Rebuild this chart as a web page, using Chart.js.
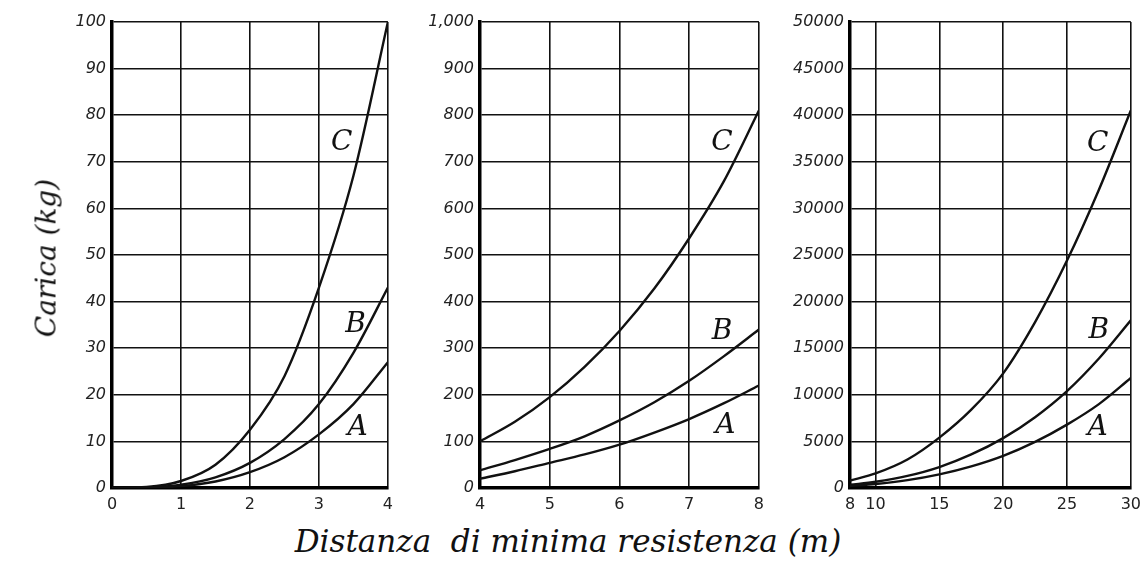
<!DOCTYPE html>
<html>
<head>
<meta charset="utf-8">
<script src="https://cdn.jsdelivr.net/npm/chart.js@4.4.1/dist/chart.umd.min.js"></script>
<style>
    body { margin: 0; background: #fff; width: 1148px; height: 567px; position: relative; overflow: hidden; }
    .panel { position: absolute; top: 0; height: 520px; }
    #yTitle {
        position: absolute; left: 46px; top: 258px;
        transform: translate(-50%, -50%) rotate(-90deg);
        font: italic 28px "DejaVu Serif", serif; color: #111; white-space: nowrap;
    }
    #xTitle {
        position: absolute; left: 568px; top: 541px;
        transform: translate(-50%, -50%);
        font: italic 31px "DejaVu Serif", serif; color: #111; white-space: nowrap;
    }
</style>
</head>
<body>
<div class="panel" style="left:40px;width:360px"><canvas id="chart1" width="360" height="520"></canvas></div>
<div class="panel" style="left:410px;width:361px"><canvas id="chart2" width="361" height="520"></canvas></div>
<div class="panel" style="left:775px;width:373px"><canvas id="chart3" width="373" height="520"></canvas></div>
<div id="yTitle">Carica (kg)</div>
<div id="xTitle">Distanza &nbsp;di minima resistenza (m)</div>

<script>
// Distanza (m) e carica (kg)
const dist1 = [0, 0.5, 1, 1.5, 2, 2.5, 3, 3.5, 4];
const curveA1 = [0, 0.05, 0.4, 1.4, 3.4, 6.6, 11.5, 18, 27];
const curveB1 = [0, 0.1, 0.7, 2.3, 5.4, 10.5, 18, 29, 43];
const curveC1 = [0, 0.2, 1.5, 5, 12.5, 24, 43, 67, 100];

const dist2 = [4, 4.5, 5, 5.5, 6, 6.5, 7, 7.5, 8];
const curveA2 = [20, 36, 54, 72, 93, 119, 148, 182, 220];
const curveB2 = [38, 60, 84, 111, 145, 184, 230, 283, 340];
const curveC2 = [100, 142, 195, 260, 337, 428, 536, 659, 810];

const dist3 = [8, 10, 12.5, 15, 17.5, 20, 22.5, 25, 27.5, 30];
const curveA3 = [220, 430, 840, 1460, 2320, 3450, 4950, 6800, 9000, 11800];
const curveB3 = [340, 670, 1300, 2250, 3600, 5350, 7600, 10400, 13900, 18000];
const curveC3 = [800, 1560, 3050, 5400, 8400, 12300, 17800, 24400, 32000, 40500];

const yLabels1 = ['0', '10', '20', '30', '40', '50', '60', '70', '80', '90', '100'];
const yLabels2 = ['0', '100', '200', '300', '400', '500', '600', '700', '800', '900', '1,000'];
const yLabels3 = ['0', '5000', '10000', '15000', '20000', '25000', '30000', '35000', '40000', '45000', '50000'];
const xTicks1 = [0, 1, 2, 3, 4];
const xTicks2 = [4, 5, 6, 7, 8];
const xTicks3 = [8, 10, 15, 20, 25, 30];
const curveNames = ['A', 'B', 'C'];

// draws the A / B / C letters next to the curves
const curveLabels = {
    id: 'curveLabels',
    afterDatasetsDraw(chart, args, opts) {
        const ctx = chart.ctx;
        ctx.save();
        ctx.font = 'italic 28px "DejaVu Serif", serif';
        ctx.fillStyle = '#111';
        ctx.textAlign = 'center';
        ctx.textBaseline = 'middle';
        (opts.items || []).forEach(function(it) {
            ctx.fillText(it.t, chart.scales.x.getPixelForValue(it.x), chart.scales.y.getPixelForValue(it.y));
        });
        ctx.restore();
    }
};

function makePanel(id, xs, series, xTicks, yLabels, yMax, yWidth, padRight, labelPos) {
    const ctx = document.getElementById(id).getContext('2d');
    const step = yMax / (yLabels.length - 1);
    new Chart(ctx, {
        type: 'line',
        data: {
            datasets: series.map(function(s, i) {
                return {
                    label: curveNames[i],
                    data: xs.map(function(x, j) { return { x: x, y: s[j] }; }),
                    borderColor: '#111',
                    borderWidth: 2.4,
                    pointRadius: 0,
                    cubicInterpolationMode: 'monotone',
                    fill: false
                };
            })
        },
        options: {
            responsive: false,
            animation: false,
            layout: { padding: { top: 22, right: padRight, left: 0, bottom: 0 } },
            plugins: {
                legend: { display: false },
                tooltip: { enabled: false },
                curveLabels: { items: labelPos }
            },
            scales: {
                x: {
                    type: 'linear',
                    min: xTicks[0],
                    max: xTicks[xTicks.length - 1],
                    afterBuildTicks: function(scale) {
                        scale.ticks = xTicks.map(function(v) { return { value: v }; });
                    },
                    afterFit: function(scale) { scale.height = 32; },
                    grid: { color: '#111', lineWidth: 1.6, drawTicks: false },
                    border: { color: '#000', width: 3.5 },
                    ticks: {
                        color: '#222',
                        padding: 7,
                        maxRotation: 0,
                        autoSkip: false,
                        font: { family: 'DejaVu Sans', size: 16 },
                        callback: function(v) { return String(v); }
                    }
                },
                y: {
                    min: 0,
                    max: yMax,
                    afterFit: function(scale) { scale.width = yWidth; },
                    grid: { color: '#111', lineWidth: 1.6, drawTicks: false },
                    border: { color: '#000', width: 3.5 },
                    ticks: {
                        color: '#222',
                        padding: 6,
                        stepSize: step,
                        font: { family: 'DejaVu Sans', size: 16, style: 'italic' },
                        callback: function(v) { return yLabels[Math.round(v / step)]; }
                    }
                }
            }
        },
        plugins: [curveLabels]
    });
}

makePanel('chart1', dist1, [curveA1, curveB1, curveC1], xTicks1, yLabels1, 100, 72, 8,
    [{ t: 'C', x: 3.33, y: 74 }, { t: 'B', x: 3.53, y: 35 }, { t: 'A', x: 3.56, y: 13 }]);
makePanel('chart2', dist2, [curveA2, curveB2, curveC2], xTicks2, yLabels2, 1000, 70, 8,
    [{ t: 'C', x: 7.47, y: 741 }, { t: 'B', x: 7.47, y: 336 }, { t: 'A', x: 7.52, y: 133 }]);
makePanel('chart3', dist3, [curveA3, curveB3, curveC3], xTicks3, yLabels3, 50000, 75, 12,
    [{ t: 'C', x: 27.4, y: 36900 }, { t: 'B', x: 27.5, y: 16900 }, { t: 'A', x: 27.4, y: 6500 }]);
</script>
</body>
</html>
